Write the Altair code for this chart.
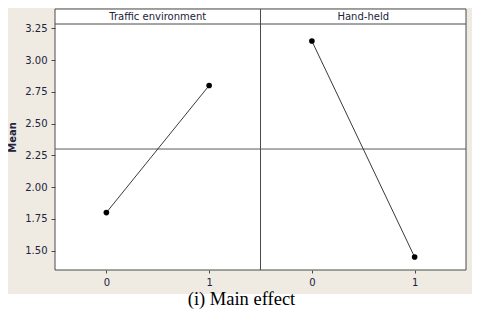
import altair as alt
import pandas as pd

# ---- data ----
factors = ["Traffic environment", "Hand-held"]
levels = [0, 1]
traffic_means = [1.80, 2.80]
handheld_means = [3.15, 1.45]
y_ticks = [1.50, 1.75, 2.00, 2.25, 2.50, 2.75, 3.00, 3.25]
x_ticks = [0, 1, 2, 3]
caption = ["(i) Main effect"]

rows = []
for p, (name, vals) in enumerate(zip(factors, [traffic_means, handheld_means])):
    for lv, v in zip(levels, vals):
        rows.append({"factor": name, "panel": p, "level": lv, "mean": v})
df = pd.DataFrame(rows)
hdr = pd.DataFrame({"factor": factors, "panel": [0, 1]})
cap = pd.DataFrame({"caption": caption})

W, H = 411, 261
BEIGE = "#efebe2"
FRAME = "#4a4a4a"
FONT = "DejaVu Sans"
TXT = "#22223a"

xscale = alt.Scale(domain=[-0.5, 3.5], nice=False, zero=False)
yscale = alt.Scale(domain=[1.348, 3.402], nice=False, zero=False)

xaxis = alt.Axis(values=x_ticks, labelExpr="datum.value % 2", title="",
                 grid=False, domain=False, tickSize=3, tickColor=FRAME,
                 labelPadding=4, labelFont=FONT, labelFontSize=10,
                 labelColor=TXT, labelOverlap=False, zindex=1)
yaxis = alt.Axis(values=y_ticks, format=".2f", title="Mean", grid=False,
                 domain=False, tickSize=4, tickColor=FRAME, labelPadding=4,
                 labelFont=FONT, labelFontSize=10, labelColor=TXT,
                 labelOverlap=False, labelFlush=False,
                 titleFont=FONT, titleFontSize=10, titleFontWeight="bold",
                 titleColor=TXT, titleX=-43, titleY=128,
                 titleAlign="center", titleBaseline="middle", zindex=1)

base = alt.Chart(df).transform_calculate(xpos="datum.level + 2 * datum.panel")
xenc = alt.X("xpos:Q", scale=xscale, axis=xaxis)
yenc = alt.Y("mean:Q", scale=yscale, axis=yaxis)

# background (beige surround) and white framed plot box
bg = alt.Chart(cap).mark_rect(color=BEIGE).encode(
    x=alt.value(-47), x2=alt.value(W + 6), y=alt.value(-1), y2=alt.value(H + 24))
box = alt.Chart(cap).mark_rect(fill="white", stroke=FRAME, strokeWidth=1).encode(
    x=alt.value(0), x2=alt.value(W), y=alt.value(0), y2=alt.value(H))
header_line = alt.Chart(cap).mark_rule(color=FRAME, strokeWidth=1).encode(
    x=alt.value(0), x2=alt.value(W), y=alt.value(15))
divider = alt.Chart(hdr).transform_filter("datum.panel == 1").transform_calculate(
    xdiv="2 * datum.panel - 0.5").mark_rule(color=FRAME, strokeWidth=1).encode(
    x=alt.X("xdiv:Q", scale=xscale, axis=xaxis), y=alt.value(0), y2=alt.value(H))
header_text = alt.Chart(hdr).transform_calculate(xc="2 * datum.panel + 0.5").mark_text(
    font=FONT, fontSize=10, color=TXT, baseline="middle").encode(
    x=alt.X("xc:Q", scale=xscale, axis=xaxis), y=alt.value(7.5), text="factor:N")

mean_line = base.mark_rule(color="#5a5a5a", strokeWidth=1).encode(
    y=alt.Y("mean(mean):Q", scale=yscale, axis=yaxis), x=alt.value(0), x2=alt.value(W))

lines = base.mark_line(color="#222222", strokeWidth=0.9).encode(
    x=xenc, y=yenc, detail="factor:N")
points = base.mark_point(filled=True, color="black", size=32, opacity=1).encode(
    x=xenc, y=yenc)

caption_text = alt.Chart(cap).mark_text(
    font="Liberation Serif", fontSize=18.5, color="black", align="center",
    baseline="alphabetic").encode(
    x=alt.value(241.5 - 55), y=alt.value(305 - 9), text="caption:N")

chart = alt.layer(bg, box, header_line, divider, header_text, mean_line, lines,
                  points, caption_text).properties(
    width=W, height=H,
    autosize=alt.AutoSizeParams(type="none"),
    padding={"left": 47, "top": 1, "right": 6, "bottom": 41},
    background="white",
).configure_view(stroke=None)

chart.save("out.html", embed_options={"renderer": "svg", "actions": False})
